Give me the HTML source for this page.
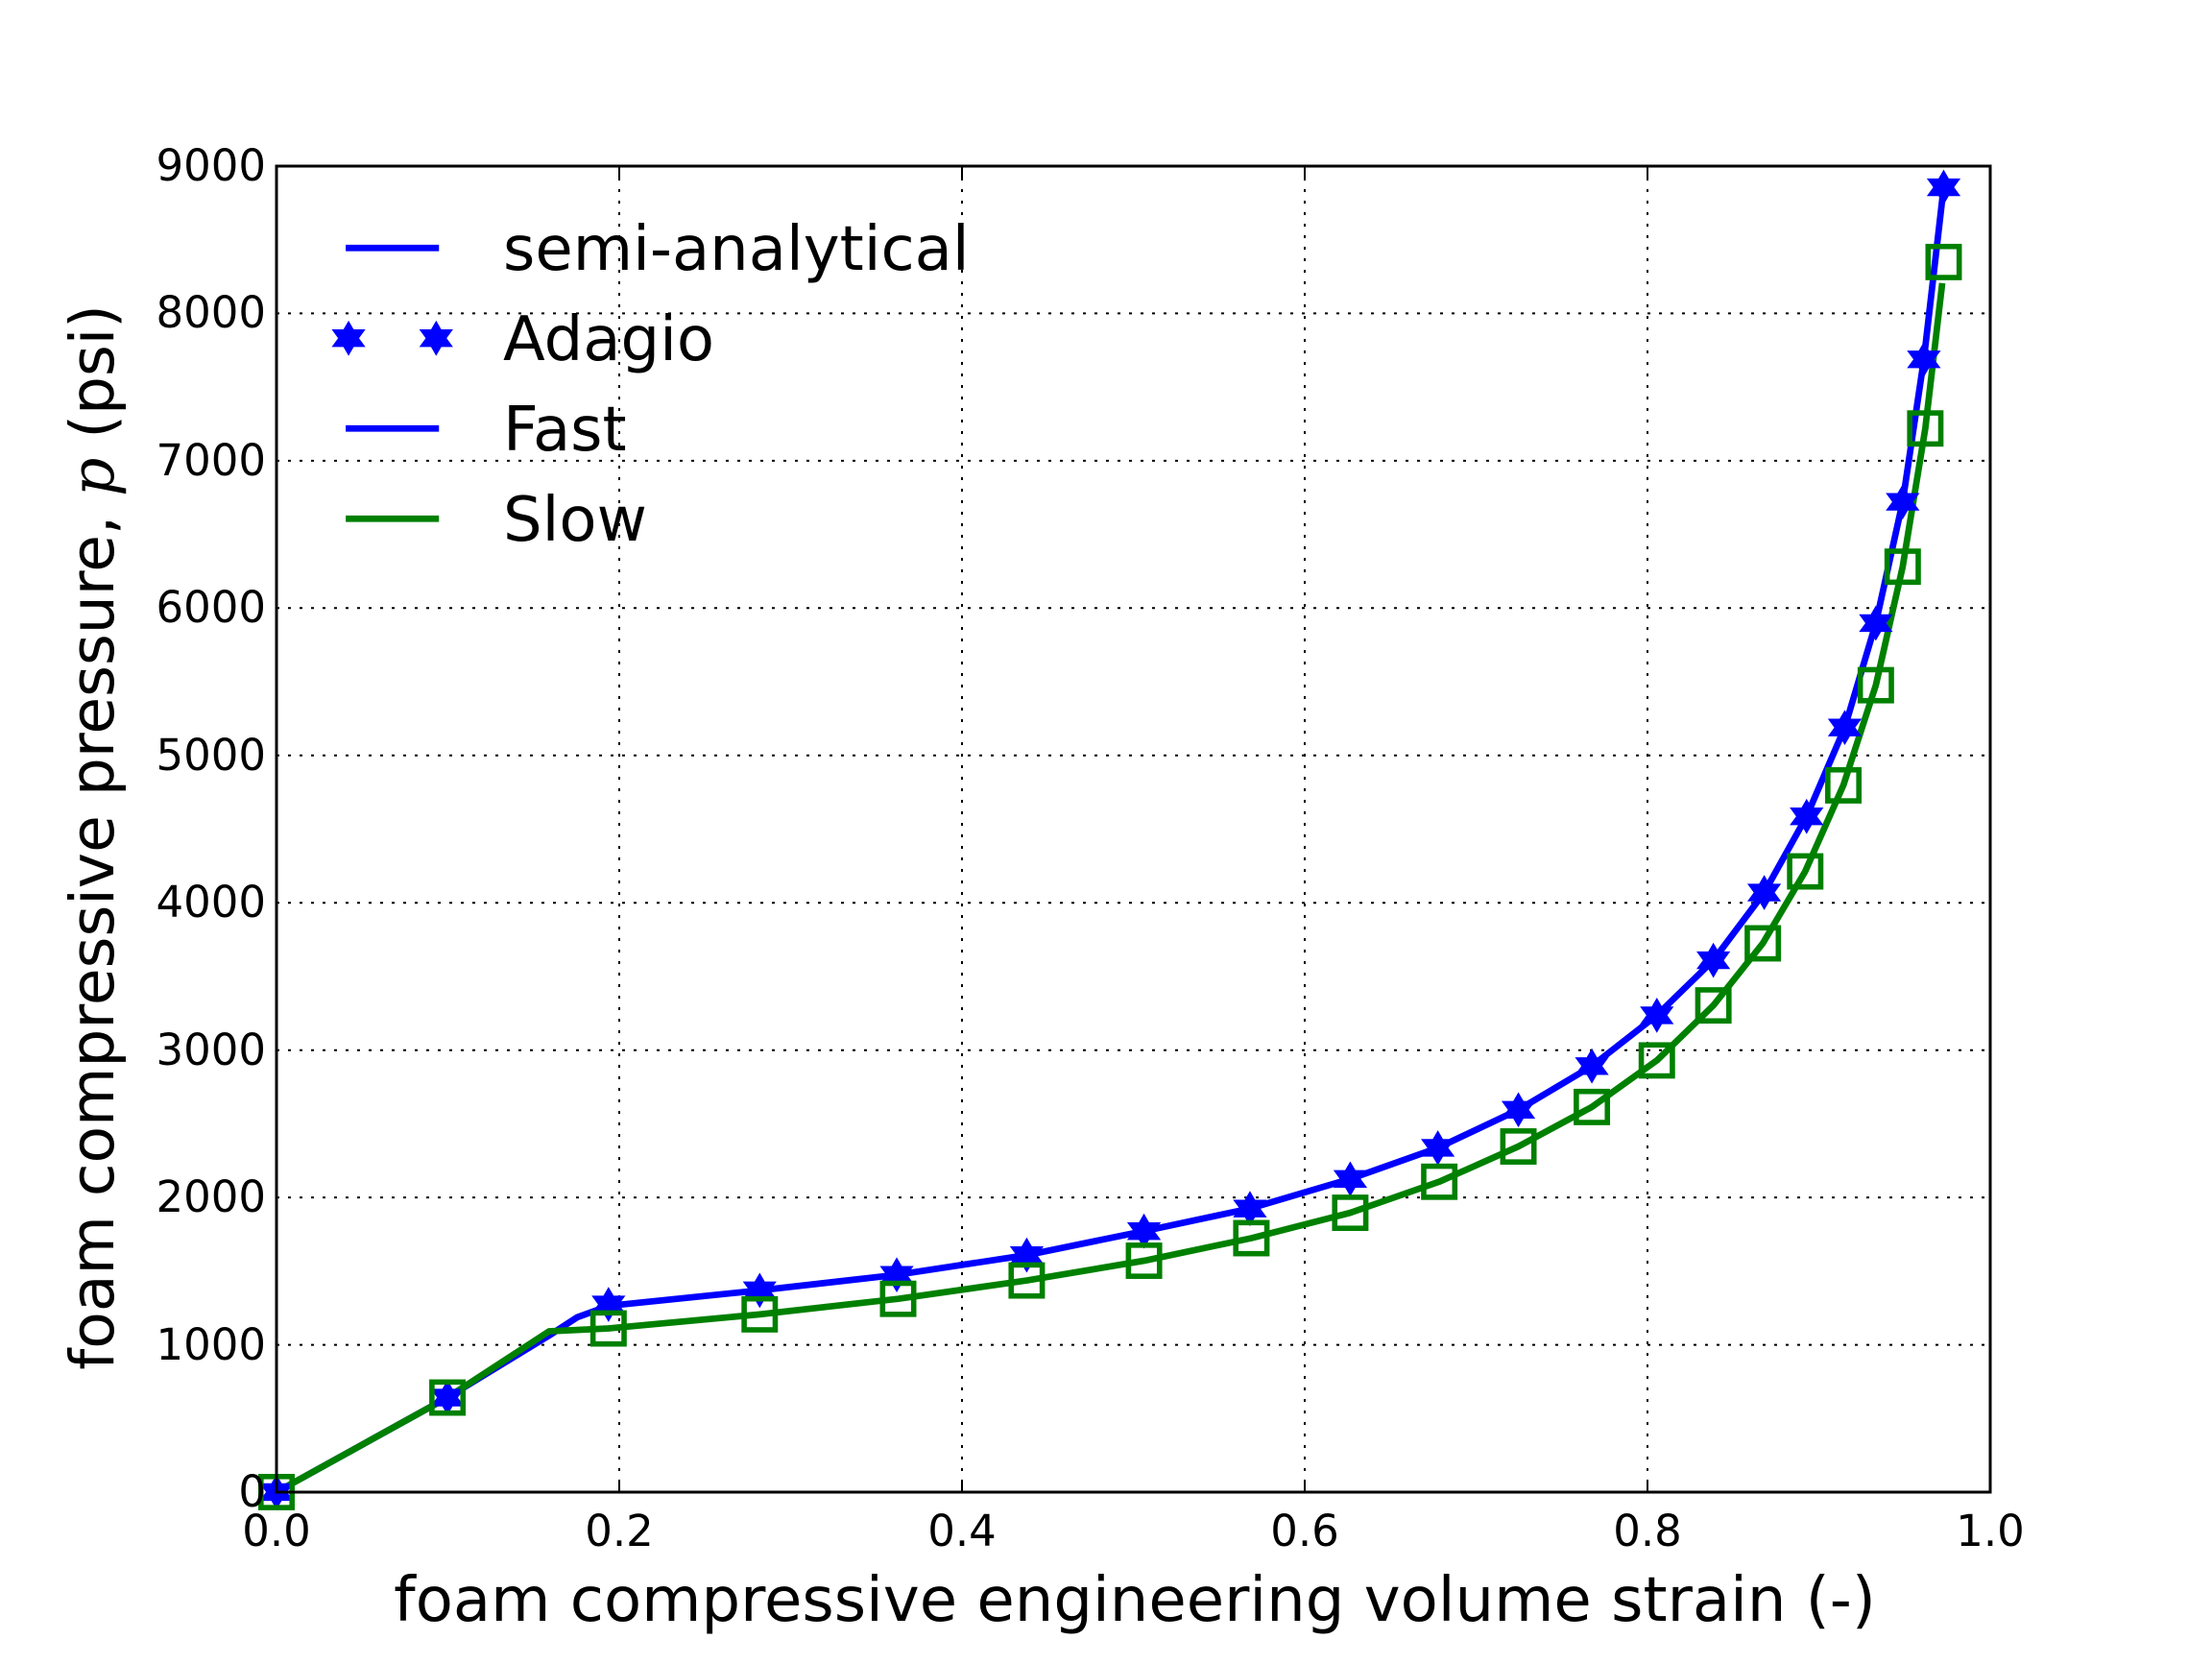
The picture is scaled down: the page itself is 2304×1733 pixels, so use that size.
<!DOCTYPE html>
<html><head><meta charset="utf-8"><style>
html,body{margin:0;padding:0;background:#fff;}
svg text{font-family:"DejaVu Sans","Liberation Sans",sans-serif;fill:#000;}
</style></head><body>
<svg width="2304" height="1728" viewBox="0 0 2304 1728" xmlns="http://www.w3.org/2000/svg">
<defs>
<polygon id="st" points="0,-11 3.2,-5.5 10.5,-5.5 6.5,0 10.5,5.5 3.2,5.5 0,11 -3.2,5.5 -10.5,5.5 -6.5,0 -10.5,-5.5 -3.2,-5.5" fill="#0000ff" stroke="#0000ff" stroke-width="1.5"/>
<rect id="sq" x="-11" y="-11" width="22" height="22" fill="none" stroke="#008000" stroke-width="3.8"/>
</defs>
<rect width="2304" height="1728" fill="#fff"/>
<g stroke="#000" stroke-width="2" stroke-dasharray="3,9">
<line x1="645" y1="173" x2="645" y2="1554"/>
<line x1="1002" y1="173" x2="1002" y2="1554"/>
<line x1="1359" y1="173" x2="1359" y2="1554"/>
<line x1="1716" y1="173" x2="1716" y2="1554"/>
<line x1="288" y1="1400.6" x2="2073" y2="1400.6"/>
<line x1="288" y1="1247.1" x2="2073" y2="1247.1"/>
<line x1="288" y1="1093.7" x2="2073" y2="1093.7"/>
<line x1="288" y1="940.2" x2="2073" y2="940.2"/>
<line x1="288" y1="786.8" x2="2073" y2="786.8"/>
<line x1="288" y1="633.3" x2="2073" y2="633.3"/>
<line x1="288" y1="479.9" x2="2073" y2="479.9"/>
<line x1="288" y1="326.4" x2="2073" y2="326.4"/>
</g>
<g transform="matrix(1.4716 0 0 1.4691 -1.9 1.1)">
<polyline fill="none" stroke="#0000ff" stroke-width="4.6" stroke-linejoin="round" points="197,1057 318,990 390,946 410,933 432,925 539,914 636,903 728,889 811,872 886,856 957,835 1019,813 1076,786 1128,755 1174,719 1214,680 1250,632 1280,578 1307,515 1329,441 1348,355 1363,254 1377,132"/>
<polyline fill="none" stroke="#008000" stroke-width="4.6" stroke-linejoin="round" points="197,1057 318,990 390,943 432,941 539,931 637,920 728,907 811,893 887,877 957,859 1020,837 1076,812 1128,784 1174,751 1214,712 1249,668 1279,617 1306,556 1329,485 1348,401 1364,303 1376,200"/>
<g>
<use href="#st" x="197" y="1057"/><use href="#st" x="318" y="990"/><use href="#st" x="432" y="924"/><use href="#st" x="539" y="914"/><use href="#st" x="636" y="903"/><use href="#st" x="728" y="889"/><use href="#st" x="811" y="872"/><use href="#st" x="886" y="856"/><use href="#st" x="957" y="835"/><use href="#st" x="1019" y="813"/><use href="#st" x="1076" y="786"/><use href="#st" x="1128" y="755"/><use href="#st" x="1174" y="719"/><use href="#st" x="1214" y="680"/><use href="#st" x="1250" y="632"/><use href="#st" x="1280" y="578"/><use href="#st" x="1307" y="515"/><use href="#st" x="1329" y="441"/><use href="#st" x="1348" y="355"/><use href="#st" x="1363" y="254"/><use href="#st" x="1377" y="132"/>
</g>
<g>
<use href="#sq" x="197" y="1057"/><use href="#sq" x="318" y="990"/><use href="#sq" x="432" y="941"/><use href="#sq" x="539" y="931"/><use href="#sq" x="637" y="920"/><use href="#sq" x="728" y="907"/><use href="#sq" x="811" y="893"/><use href="#sq" x="887" y="877"/><use href="#sq" x="957" y="859"/><use href="#sq" x="1020" y="837"/><use href="#sq" x="1076" y="812"/><use href="#sq" x="1128" y="784"/><use href="#sq" x="1174" y="751"/><use href="#sq" x="1214" y="712"/><use href="#sq" x="1249" y="668"/><use href="#sq" x="1279" y="617"/><use href="#sq" x="1306" y="556"/><use href="#sq" x="1329" y="485"/><use href="#sq" x="1348" y="401"/><use href="#sq" x="1364" y="303"/><use href="#sq" x="1377" y="185"/>
</g>
<line x1="246" y1="175" x2="312" y2="175" stroke="#0000ff" stroke-width="4.6"/>
<use href="#st" x="248" y="239"/><use href="#st" x="310" y="239"/>
<line x1="246" y1="303" x2="312" y2="303" stroke="#0000ff" stroke-width="4.6"/>
<line x1="246" y1="367" x2="312" y2="367" stroke="#008000" stroke-width="4.6"/>
</g>
<g stroke="#000" stroke-width="2">
<line x1="645" y1="1554" x2="645" y2="1542"/><line x1="1002" y1="1554" x2="1002" y2="1542"/><line x1="1359" y1="1554" x2="1359" y2="1542"/><line x1="1716" y1="1554" x2="1716" y2="1542"/>
<line x1="645" y1="173" x2="645" y2="185"/><line x1="1002" y1="173" x2="1002" y2="185"/><line x1="1359" y1="173" x2="1359" y2="185"/><line x1="1716" y1="173" x2="1716" y2="185"/>
</g>
<rect x="288" y="173" width="1785" height="1381" fill="none" stroke="#000" stroke-width="3"/>
<g font-size="64">
<text x="524" y="281">semi-analytical</text>
<text x="524" y="375">Adagio</text>
<text x="524" y="469">Fast</text>
<text x="524" y="563">Slow</text>
</g>
<g font-size="45" text-anchor="end">
<text x="277" y="1569">0</text>
<text x="277" y="1416">1000</text>
<text x="277" y="1262">2000</text>
<text x="277" y="1109">3000</text>
<text x="277" y="955">4000</text>
<text x="277" y="802">5000</text>
<text x="277" y="648">6000</text>
<text x="277" y="495">7000</text>
<text x="277" y="341">8000</text>
<text x="277" y="188">9000</text>
</g>
<g font-size="45" text-anchor="middle">
<text x="288" y="1610">0.0</text>
<text x="645" y="1610">0.2</text>
<text x="1002" y="1610">0.4</text>
<text x="1359" y="1610">0.6</text>
<text x="1716" y="1610">0.8</text>
<text x="2073" y="1610">1.0</text>
</g>
<text x="1182" y="1688" font-size="64" text-anchor="middle">foam compressive engineering volume strain (-)</text>
<text transform="translate(118,872) rotate(-90)" font-size="63" text-anchor="middle">foam compressive pressure, <tspan font-family="'DejaVu Serif','Liberation Serif',serif" font-style="italic">p</tspan> (psi)</text>
</svg>
</body></html>
